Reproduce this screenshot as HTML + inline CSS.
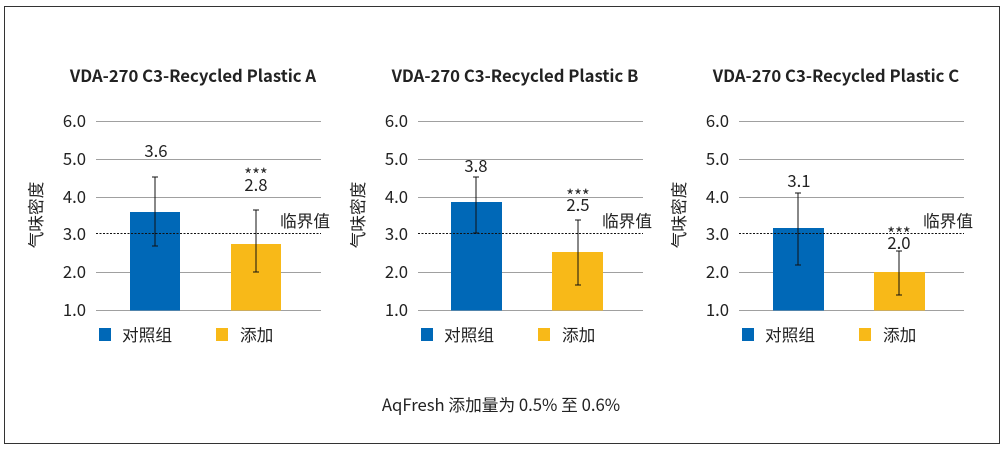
<!DOCTYPE html>
<html><head><meta charset="utf-8"><style>
html,body{margin:0;padding:0;background:#fff;}
svg{display:block;font-family:"Noto Sans CJK SC","Liberation Sans",sans-serif;}
</style></head><body>
<svg width="1006" height="453" viewBox="0 0 1006 453" xmlns="http://www.w3.org/2000/svg">
<rect x="4.5" y="6.5" width="995" height="437" fill="#fff" stroke="#333" stroke-width="1"/>
<defs>
<g id="grid" stroke="#a0a0a0" stroke-width="1">
<line x1="96" x2="321" y1="121.5" y2="121.5"/>
<line x1="96" x2="321" y1="159.5" y2="159.5"/>
<line x1="96" x2="321" y1="197.5" y2="197.5"/>
<line x1="96" x2="321" y1="272.5" y2="272.5"/>
<line x1="96" x2="321" y1="310.5" y2="310.5"/>
</g>
<g id="ax" font-size="16.7" fill="#222">
<text x="86" y="127" text-anchor="end">6.0</text>
<text x="86" y="165" text-anchor="end">5.0</text>
<text x="86" y="203" text-anchor="end">4.0</text>
<text x="86" y="240" text-anchor="end">3.0</text>
<text x="86" y="278" text-anchor="end">2.0</text>
<text x="86" y="316" text-anchor="end">1.0</text>
<text transform="translate(42,215) rotate(-90)" text-anchor="middle">气味密度</text>
<rect x="99" y="328" width="12" height="13" fill="#0068b7"/>
<text x="122" y="341">对照组</text>
<rect x="216" y="328" width="12" height="13" fill="#f8b918"/>
<text x="240" y="341">添加</text>
</g>
</defs>

<!-- Panel A -->
<g>
<use href="#grid"/>
<rect x="130" y="212" width="50" height="98.5" fill="#0068b7"/>
<rect x="231" y="244" width="50" height="66.5" fill="#f8b918"/>
<line x1="96" x2="321" y1="233.5" y2="233.5" stroke="#111" stroke-dasharray="2,1.5"/>
<use href="#ax"/>
<g stroke="#111" stroke-width="1">
<line x1="155" x2="155" y1="177" y2="246"/><line x1="152" x2="158" y1="177" y2="177"/><line x1="152" x2="158" y1="246" y2="246"/>
<line x1="256" x2="256" y1="210" y2="272"/><line x1="253" x2="259" y1="210" y2="210"/><line x1="253" x2="259" y1="272" y2="272"/>
</g>
<g font-size="16.7" fill="#222" text-anchor="middle">
<text x="193" y="82" font-weight="bold">VDA-270 C3-Recycled Plastic A</text>
<text x="156" y="157">3.6</text>
<text x="256" y="181">***</text>
<text x="256" y="191">2.8</text>
<text x="305" y="227">临界值</text>
</g>
</g>

<!-- Panel B -->
<g transform="translate(322,0)">
<use href="#grid"/>
<rect x="129" y="202" width="51" height="108.5" fill="#0068b7"/>
<rect x="230" y="252" width="51" height="58.5" fill="#f8b918"/>
<line x1="96" x2="321" y1="233.5" y2="233.5" stroke="#111" stroke-dasharray="2,1.5"/>
<use href="#ax"/>
<g stroke="#111" stroke-width="1">
<line x1="154" x2="154" y1="177" y2="233"/><line x1="151" x2="157" y1="177" y2="177"/><line x1="151" x2="157" y1="233" y2="233"/>
<line x1="256" x2="256" y1="220" y2="285"/><line x1="253" x2="259" y1="220" y2="220"/><line x1="253" x2="259" y1="285" y2="285"/>
</g>
<g font-size="16.7" fill="#222" text-anchor="middle">
<text x="193" y="82" font-weight="bold">VDA-270 C3-Recycled Plastic B</text>
<text x="154" y="172">3.8</text>
<text x="256" y="202">***</text>
<text x="256" y="211">2.5</text>
<text x="305" y="227">临界值</text>
</g>
</g>

<!-- Panel C -->
<g transform="translate(643,0)">
<use href="#grid"/>
<rect x="130" y="228" width="51" height="82.5" fill="#0068b7"/>
<rect x="231" y="272" width="51" height="38.5" fill="#f8b918"/>
<line x1="96" x2="321" y1="233.5" y2="233.5" stroke="#111" stroke-dasharray="2,1.5"/>
<use href="#ax"/>
<g stroke="#111" stroke-width="1">
<line x1="155" x2="155" y1="193" y2="265"/><line x1="152" x2="158" y1="193" y2="193"/><line x1="152" x2="158" y1="265" y2="265"/>
<line x1="256" x2="256" y1="251" y2="295"/><line x1="253" x2="259" y1="251" y2="251"/><line x1="253" x2="259" y1="295" y2="295"/>
</g>
<g font-size="16.7" fill="#222" text-anchor="middle">
<text x="156" y="187">3.1</text>
<text x="256" y="240">***</text>
<text x="256" y="249">2.0</text>
<text x="305" y="227">临界值</text>
<text x="193" y="82" font-weight="bold">VDA-270 C3-Recycled Plastic C</text>
</g>
</g>

<text x="501" y="411" text-anchor="middle" font-size="16.7" fill="#222">AqFresh 添加量为 0.5% 至 0.6%</text>
</svg>
</body></html>
